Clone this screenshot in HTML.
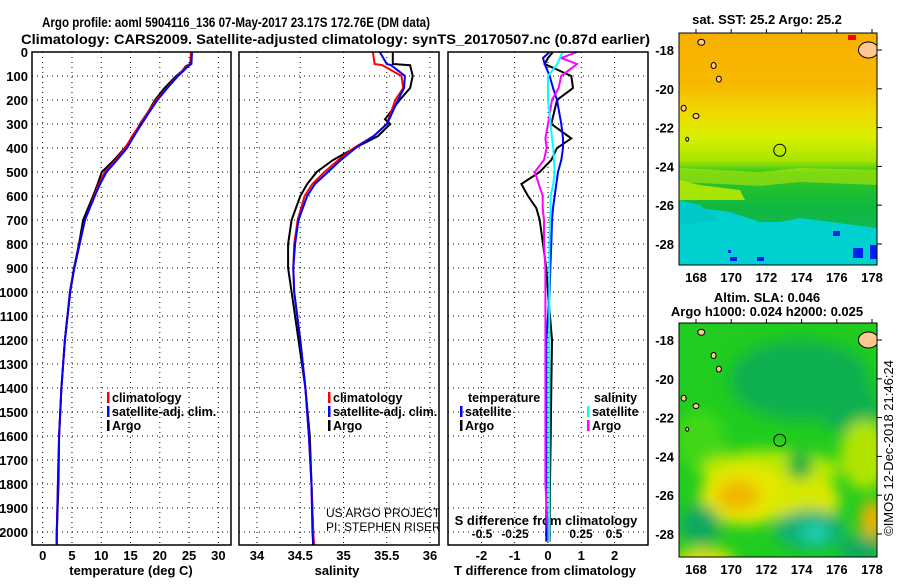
<!DOCTYPE html>
<html><head><meta charset="utf-8">
<style>
body{margin:0;background:#fff;}
svg text{font-family:"Liberation Sans",sans-serif;}
</style></head>
<body>
<svg id="chart" width="900" height="580" viewBox="0 0 900 580" xmlns="http://www.w3.org/2000/svg">
<defs>
<linearGradient id="sstGrad" x1="0" y1="0" x2="0" y2="1">
<stop offset="0" stop-color="#f8b000"/><stop offset="0.22" stop-color="#f8b800"/>
<stop offset="0.34" stop-color="#f0d800"/><stop offset="0.45" stop-color="#d8f000"/>
<stop offset="0.55" stop-color="#a8e400"/><stop offset="0.6" stop-color="#30c820"/>
<stop offset="0.75" stop-color="#10b840"/><stop offset="0.84" stop-color="#10b850"/>
<stop offset="0.88" stop-color="#00d0d0"/><stop offset="1" stop-color="#00d0d0"/>
</linearGradient>
<filter id="blur" x="-30%" y="-30%" width="160%" height="160%"><feGaussianBlur stdDeviation="7"/></filter>
<clipPath id="clipSla"><rect x="679" y="323" width="198" height="234"/></clipPath>
<clipPath id="clipSst"><rect x="679" y="33" width="198" height="232"/></clipPath>
</defs>
<text x="42" y="27" font-size="14" font-weight="bold" textLength="388" lengthAdjust="spacingAndGlyphs">Argo profile: aoml 5904116_136 07-May-2017 23.17S 172.76E (DM data)</text>
<text x="21" y="44" font-size="14" font-weight="bold" textLength="629" lengthAdjust="spacingAndGlyphs">Climatology: CARS2009. Satellite-adjusted climatology: synTS_20170507.nc (0.87d earlier)</text>
<g id="plots"></g>
<g id="maps"></g>
</svg>
<script>
// ---- data ----
var depthTicks=[0,100,200,300,400,500,600,700,800,900,1000,1100,1200,1300,1400,1500,1600,1700,1800,1900,2000];
var tempTicks=[0,5,10,15,20,25,30];
var salTicks=[34,34.5,35,35.5,36];
var salTickLabels=["34","34.5","35","35.5","36"];
var tdTicks=[-2,-1,0,1,2];
var sdTicks=[-0.5,-0.25,0,0.25,0.5];
var sdTickLabels=["-0.5","-0.25","0","0.25","0.5"];

var tDepth=[0,50,60,80,100,150,200,250,300,350,400,450,500,550,600,700,800,900,1000,1200,1400,1600,1800,2000,2054];
var tArgo=[25.4,25.2,24.4,23.8,22.8,20.8,19.2,18.0,16.6,15.6,14.0,12.2,10.1,9.4,8.6,6.9,6.2,5.35,4.65,3.8,3.2,2.8,2.7,2.4,2.4];
var tClim=[25.3,25.3,24.6,23.8,23.0,21.2,19.4,18.0,16.7,15.3,14.1,12.5,10.6,9.6,8.8,7.2,6.3,5.4,4.7,3.8,3.2,2.8,2.6,2.4,2.35];
var tSat=[25.5,25.4,24.8,24.0,23.1,21.3,19.6,18.2,16.9,15.6,14.4,12.7,10.9,9.8,8.9,7.2,6.3,5.4,4.7,3.8,3.2,2.8,2.6,2.4,2.35];

var sDepth=[0,50,55,100,150,200,280,300,350,400,450,500,550,600,700,800,900,1000,1200,1400,1600,1800,2000,2054];
var sArgo=[35.57,35.57,35.77,35.8,35.77,35.65,35.48,35.54,35.4,35.13,34.88,34.69,34.58,34.5,34.4,34.36,34.36,34.4,34.48,34.56,34.61,34.63,34.65,34.65];
var sClim=[35.34,35.36,35.45,35.67,35.69,35.6,35.52,35.5,35.35,35.12,34.94,34.78,34.64,34.55,34.47,34.43,34.42,34.43,34.5,34.56,34.6,34.63,34.65,34.66];
var sSat=[35.42,35.5,35.55,35.71,35.7,35.63,35.53,35.5,35.35,35.14,34.97,34.82,34.67,34.58,34.48,34.44,34.42,34.43,34.5,34.56,34.6,34.63,34.64,34.65];

var dDepth=[0,25,50,100,150,200,300,360,400,450,500,550,600,650,700,800,900,1000,1200,1400,1600,1800,2000,2040];
var dtArgo=[0.15,0.0,-0.1,0.7,0.75,0.27,0.1,0.7,0.27,0.1,-0.25,-0.8,-0.6,-0.35,-0.25,-0.15,-0.05,0.0,0.12,0.1,0.08,0.06,0.05,0.05];
var dtSat=[0.05,-0.15,-0.1,0.05,0.15,0.27,0.4,0.45,0.45,0.4,0.3,0.25,0.2,0.15,0.12,0.1,0.07,0.05,-0.05,-0.05,-0.05,-0.05,-0.05,-0.05];
var dsArgo=[0.22,0.1,0.22,0.1,0.08,0.03,0.0,-0.02,-0.01,-0.03,-0.1,-0.07,-0.04,-0.04,-0.03,-0.03,-0.02,-0.02,-0.02,-0.02,-0.02,-0.02,0.0,0.0];
var dsSat=[0.11,0.09,0.07,0.0,0.0,0.0,0.02,0.03,0.04,0.045,0.05,0.04,0.02,0.02,0.015,0.01,0.01,0.01,0.01,0.01,0.01,0.01,0.01,0.01];

var latTicks=[-18,-20,-22,-24,-26,-28];
var lonTicks=[168,170,172,174,176,178];

// ---- helpers ----
var NS="http://www.w3.org/2000/svg";
var plots=document.getElementById('plots');
var maps=document.getElementById('maps');
function mk(tag,attrs,parent,txt){var e=document.createElementNS(NS,tag);for(var k in attrs)e.setAttribute(k,attrs[k]);if(txt!==undefined)e.textContent=txt;(parent||plots).appendChild(e);return e;}
var Y0=52,PXD=0.24,YB=545;
function yD(d){return Y0+d*PXD;}

var panels=[
 {name:'temperature',x0:32,x1:231,f:function(v){return 42.7+v*5.855;}},
 {name:'salinity',x0:239,x1:439,f:function(v){return 257+(v-34)*86.5;}},
 {name:'difference',x0:448,x1:648,f:function(v){return 548+v*33.3;}}
];
function sdx(v){return 548+v*132;}

panels.forEach(function(p){
  var g=mk('g',{});
  
  
  depthTicks.forEach(function(d){
    var l=mk('line',{x1:p.x0,x2:p.x1,y1:yD(d),y2:yD(d),stroke:'#000','stroke-width':1,'stroke-dasharray':'1,4'},g);
    
    
  });
});
function vgrid(p,ticks,fx){
  ticks.forEach(function(t){
    var l=mk('line',{x1:fx(t),x2:fx(t),y1:Y0,y2:YB,stroke:'#000','stroke-width':1,'stroke-dasharray':'1,4'});
    
    
  });
}
vgrid(panels[0],tempTicks,panels[0].f);
vgrid(panels[1],salTicks,panels[1].f);
vgrid(panels[2],tdTicks,panels[2].f);

depthTicks.forEach(function(d){
  var t=mk('text',{x:28,y:yD(d)+5,'font-size':13,'font-weight':'bold','text-anchor':'end'},plots,String(d));
  
  
});
function xlabels(ticks,labels,fx,y,fs){
  ticks.forEach(function(v,i){
    var t=mk('text',{x:fx(v),y:y,'font-size':fs,'font-weight':'bold','text-anchor':'middle'},plots,labels?labels[i]:String(v));
    
    
  });
}
xlabels(tempTicks,null,panels[0].f,560,13);
xlabels(salTicks,salTickLabels,panels[1].f,560,13);
xlabels(tdTicks,null,panels[2].f,560,13);
xlabels(sdTicks,sdTickLabels,sdx,538,12);

function axtitle(x,y,s,name){var t=mk('text',{x:x,y:y,'font-size':13,'font-weight':'bold','text-anchor':'middle'},plots,s);}
axtitle(131,575,'temperature (deg C)','x-axis-title-temperature');
axtitle(337,575,'salinity','x-axis-title-salinity');
axtitle(545,575,'T difference from climatology','x-axis-title-t-difference');
axtitle(546,525,'S difference from climatology','s-difference-title');

function line(xs,ds,fx,color,name,w){
  var pts=xs.map(function(v,i){return fx(v).toFixed(1)+','+yD(ds[i]).toFixed(1);}).join(' ');
  var l=mk('polyline',{points:pts,fill:'none',stroke:color,'stroke-width':w||2});
  
  
}
line(tArgo,tDepth,panels[0].f,'#000','temp-argo-line');
line(tClim,tDepth,panels[0].f,'#f00','temp-climatology-line');
line(tSat,tDepth,panels[0].f,'#00f','temp-satellite-line');
line(sArgo,sDepth,panels[1].f,'#000','sal-argo-line');
line(sClim,sDepth,panels[1].f,'#f00','sal-climatology-line');
line(sSat,sDepth,panels[1].f,'#00f','sal-satellite-line');
line(dtArgo,dDepth,panels[2].f,'#000','tdiff-argo-line');
line(dtSat,dDepth,panels[2].f,'#00f','tdiff-satellite-line');
line(dsArgo,dDepth,sdx,'#f0f','sdiff-argo-line');
line(dsSat,dDepth,sdx,'#0ff','sdiff-satellite-line');

panels.forEach(function(p){
  var r=mk('rect',{x:p.x0,y:Y0,width:p.x1-p.x0,height:YB-Y0,fill:'none',stroke:'#000','stroke-width':1.5});
  
  
});

function legend(x,y,color,label){
  var g=mk('g',{});
  
  
  mk('rect',{x:x,y:y-10,width:2.5,height:11,fill:color},g);
  mk('text',{x:x+5,y:y,'font-size':12.5,'font-weight':'bold'},g,label);
}
legend(107,402,'#f00','climatology');legend(107,416,'#00f','satellite-adj. clim.');legend(107,430,'#000','Argo');
legend(328,402,'#f00','climatology');legend(328,416,'#00f','satellite-adj. clim.');legend(328,430,'#000','Argo');
var lt=mk('text',{x:468,y:402,'font-size':12.5,'font-weight':'bold'},plots,'temperature');
var ls=mk('text',{x:594,y:402,'font-size':12.5,'font-weight':'bold'},plots,'salinity');
legend(460,416,'#00f','satellite');legend(460,430,'#000','Argo');
legend(587,416,'#0ff','satellite');legend(587,430,'#f0f','Argo');
var c1=mk('text',{x:326,y:517,'font-size':12},plots,'US ARGO PROJECT');
var c2=mk('text',{x:326,y:531,'font-size':12},plots,'PI: STEPHEN RISER');

// ---- maps ----
function lonX(l){return 696+(l-168)*17.6;}
function islands(g,latY){
  [[168.3,-17.6,3.5,3],[169.0,-18.8,2.5,3],[169.3,-19.5,2.5,3],[167.3,-21.0,2.5,3],[168.0,-21.4,3,2.5],[167.5,-22.6,1.5,2],[177.8,-18.0,10,8]].forEach(function(s){
    var e=mk('ellipse',{cx:lonX(s[0]),cy:latY(s[1]),rx:s[2],ry:s[3],fill:'#ffc890',stroke:'#000','stroke-width':1},g);
    
  });
}
function mapAxes(top,bottom,latY,name){
  latTicks.forEach(function(la){
    var y=latY(la);
    var t=mk('text',{x:674,y:y+5,'font-size':13,'font-weight':'bold','text-anchor':'end'},maps,String(la));
    
    mk('line',{x1:877,x2:882,y1:y,y2:y,stroke:'#000'},maps);
  });
  lonTicks.forEach(function(lo){
    var t=mk('text',{x:lonX(lo),y:bottom+17,'font-size':13,'font-weight':'bold','text-anchor':'middle'},maps,String(lo));
    
    mk('line',{x1:lonX(lo),x2:lonX(lo),y1:top-4,y2:top,stroke:'#000'},maps);
  });
  var r=mk('rect',{x:679,y:top,width:198,height:bottom-top,fill:'none',stroke:'#000'},maps);
  
  var argoLat=-23.17,argoLon=172.76;
  var c=mk('circle',{cx:lonX(argoLon),cy:latY(argoLat),r:6,fill:'none',stroke:'#000','stroke-width':1},maps);
  
}
// SST map
var sstLat=function(la){return 50+(-18-la)*19.4;};
var sg=mk('g',{'clip-path':'url(#clipSst)'},maps);

mk('rect',{x:679,y:33,width:198,height:232,fill:'url(#sstGrad)'},sg);
mk('polygon',{points:'679,168 760,172 800,168 877,170 877,185 800,182 760,186 679,182',fill:'#d0ec00',opacity:0.5},sg);
mk('polygon',{points:'679,180 700,185 740,190 745,200 679,200',fill:'#b8e800',opacity:0.9},sg);
mk('polygon',{points:'679,205 700,208 730,212 760,222 780,222 800,218 877,228 877,265 679,265',fill:'#00d0d0'},sg);
mk('polygon',{points:'679,200 700,205 720,220 679,225',fill:'#00c8c8'},sg);
[[833,231,7,5],[853,248,10,10],[870,245,8,14],[730,257,7,4],[757,257,7,4],[728,250,3,3]].forEach(function(b){mk('rect',{x:b[0],y:b[1],width:b[2],height:b[3],fill:'#0020f0'},sg);});
mk('rect',{x:848,y:35,width:8,height:5,fill:'#f00'},sg);
islands(sg,sstLat);
mapAxes(33,265,sstLat,'sst-map');
var st=mk('text',{x:767,y:24,'font-size':13,'font-weight':'bold','text-anchor':'middle'},maps,'sat. SST: 25.2 Argo: 25.2');

// SLA map
var slaLat=function(la){return 340+(-18-la)*19.4;};
var ag=mk('g',{'clip-path':'url(#clipSla)'},maps);

mk('rect',{x:679,y:323,width:198,height:234,fill:'#20cc20'},ag);
var bl=mk('g',{filter:'url(#blur)'},ag);
[[800,380,70,40,'#10b050'],[850,410,30,25,'#10b050'],[700,440,25,30,'#40d818'],
 [770,470,70,20,'#b8e800'],[865,455,25,35,'#b0e400'],[745,495,45,30,'#e8e800'],[738,495,22,16,'#f0b800'],
 [805,500,35,25,'#d8e800'],[872,520,12,20,'#f0b000'],[700,525,20,20,'#10a860'],[810,530,35,20,'#10b078'],
 [815,533,14,10,'#20d0b0'],[860,550,22,14,'#10a860'],[705,560,30,12,'#e0e000'],[800,465,12,15,'#10b040']].forEach(function(b){mk('ellipse',{cx:b[0],cy:b[1],rx:b[2],ry:b[3],fill:b[4]},bl);});
islands(ag,slaLat);
mapAxes(323,557,slaLat,'sla-map');
var a1=mk('text',{x:767,y:302,'font-size':13,'font-weight':'bold','text-anchor':'middle'},maps,'Altim. SLA: 0.046');
var a2=mk('text',{x:767,y:316,'font-size':13,'font-weight':'bold','text-anchor':'middle'},maps,'Argo h1000: 0.024 h2000: 0.025');
var cr=mk('text',{x:0,y:0,'font-size':13,'text-anchor':'middle',transform:'translate(893,448) rotate(-90)'},maps,'©IMOS 12-Dec-2018 21:46:24');
</script>
</body></html>
